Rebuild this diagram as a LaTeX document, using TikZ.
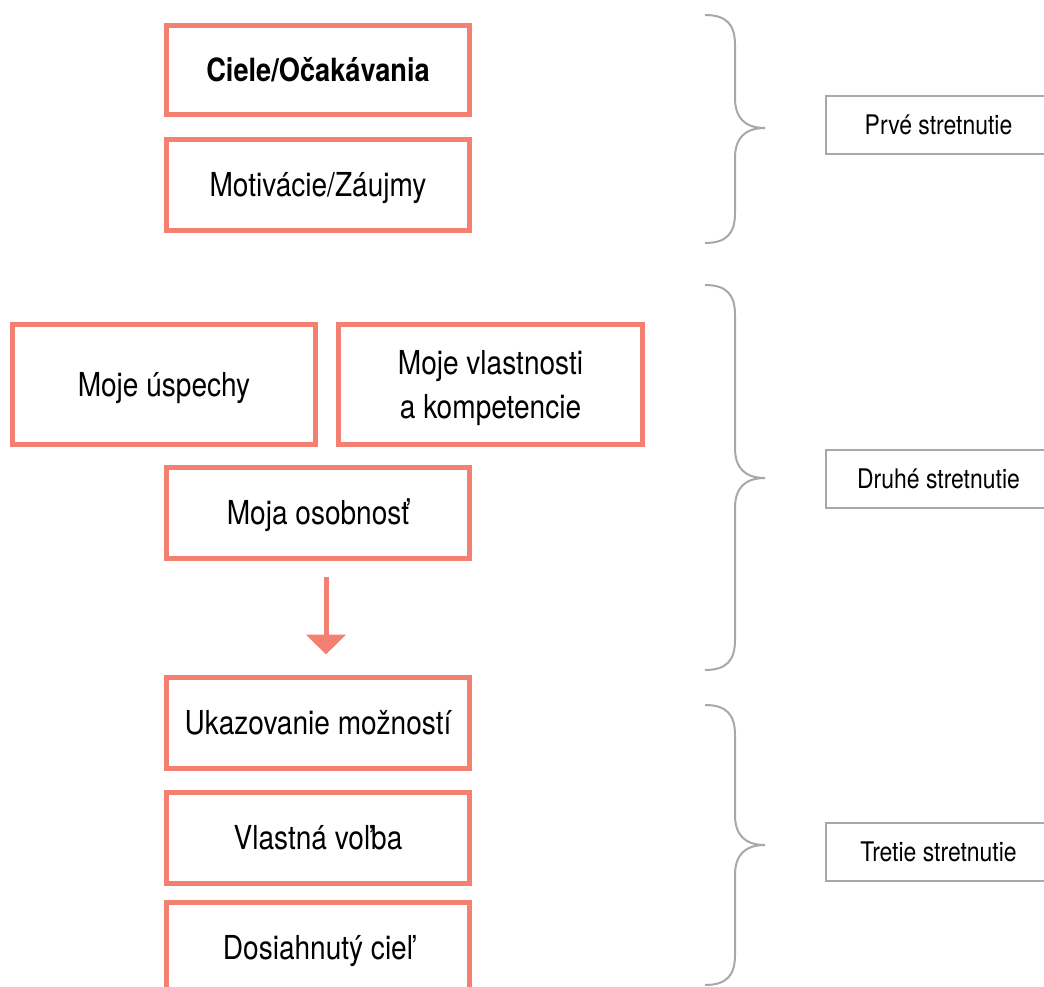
\documentclass[tikz,border=0pt]{standalone}
\usepackage{fontspec}
\setmainfont[FakeStretch=0.85]{TeX Gyre Heros}
\usetikzlibrary{arrows.meta}
\definecolor{salmon}{RGB}{244,128,114}
\definecolor{braceg}{RGB}{168,168,168}
\begin{document}
\begin{tikzpicture}[x=1pt,y=-1pt,
  box/.style={draw=salmon,line width=5pt,fill=white,minimum width=303pt,minimum height=91pt,inner sep=0pt,
    font=\fontsize{33}{44}\selectfont,align=center,text height=23.7pt,text depth=0pt},
  lab/.style={draw=braceg,line width=2pt,minimum width=225pt,minimum height=58pt,inner sep=0pt,
    font=\fontsize{27}{30}\selectfont,text height=19.4pt,text depth=0pt},
  bracel/.style={draw=braceg,line width=2pt},
  flow/.style={draw=salmon,line width=5pt,-{Triangle[width=39pt,length=20pt]}}]
\useasboundingbox (0,0) rectangle (1044,987);

% left column boxes
\node[box,minimum height=89pt,font=\fontsize{32}{44}\selectfont\bfseries] (ciele) at (318,70) {Ciele/Očakávania};
\node[box] (motiv) at (318,185) {Motivácie/Záujmy};
\node[box,minimum width=303.5pt,minimum height=120pt] (uspech) at (164,384.5) {Moje úspechy};
\node[box,minimum width=304pt,minimum height=120pt,text height=67.7pt] (vlast) at (490.5,384.5) {Moje vlastnosti\\a kompetencie};
\node[box] (osob) at (318,513) {Moja osobnosť};
\node[box] (ukaz) at (318,723) {Ukazovanie možností};
\node[box] (volba) at (318,838) {Vlastná voľba};
\node[box] (ciel) at (318,948) {Dosiahnutý cieľ};

\draw[flow,shorten <=15.5pt,shorten >=20.5pt] ([xshift=8pt]osob.south) -- ([xshift=8pt]ukaz.north);

% braces
\draw[bracel] (705,15) .. controls (727,15) and (735,25) .. (735,45) -- (735,98)
  .. controls (735,118) and (745,128) .. (765,128)
  .. controls (745,128) and (735,138) .. (735,158) -- (735,213)
  .. controls (735,233) and (727,243) .. (705,243);
\draw[bracel] (705,285) .. controls (727,285) and (735,295) .. (735,315) -- (735,448)
  .. controls (735,468) and (745,478) .. (765,478)
  .. controls (745,478) and (735,488) .. (735,508) -- (735,640)
  .. controls (735,660) and (727,670) .. (705,670);
\draw[bracel] (705,705) .. controls (727,705) and (735,715) .. (735,735) -- (735,815)
  .. controls (735,835) and (745,845) .. (765,845)
  .. controls (745,845) and (735,855) .. (735,875) -- (735,955)
  .. controls (735,975) and (727,985) .. (705,985);

% labels
\node[lab] (l1) at (938.5,125) {Prvé stretnutie};
\node[lab] (l2) at (938.5,478.5) {Druhé stretnutie};
\node[lab] (l3) at (938.5,851.5) {Tretie stretnutie};
\end{tikzpicture}
\end{document}
